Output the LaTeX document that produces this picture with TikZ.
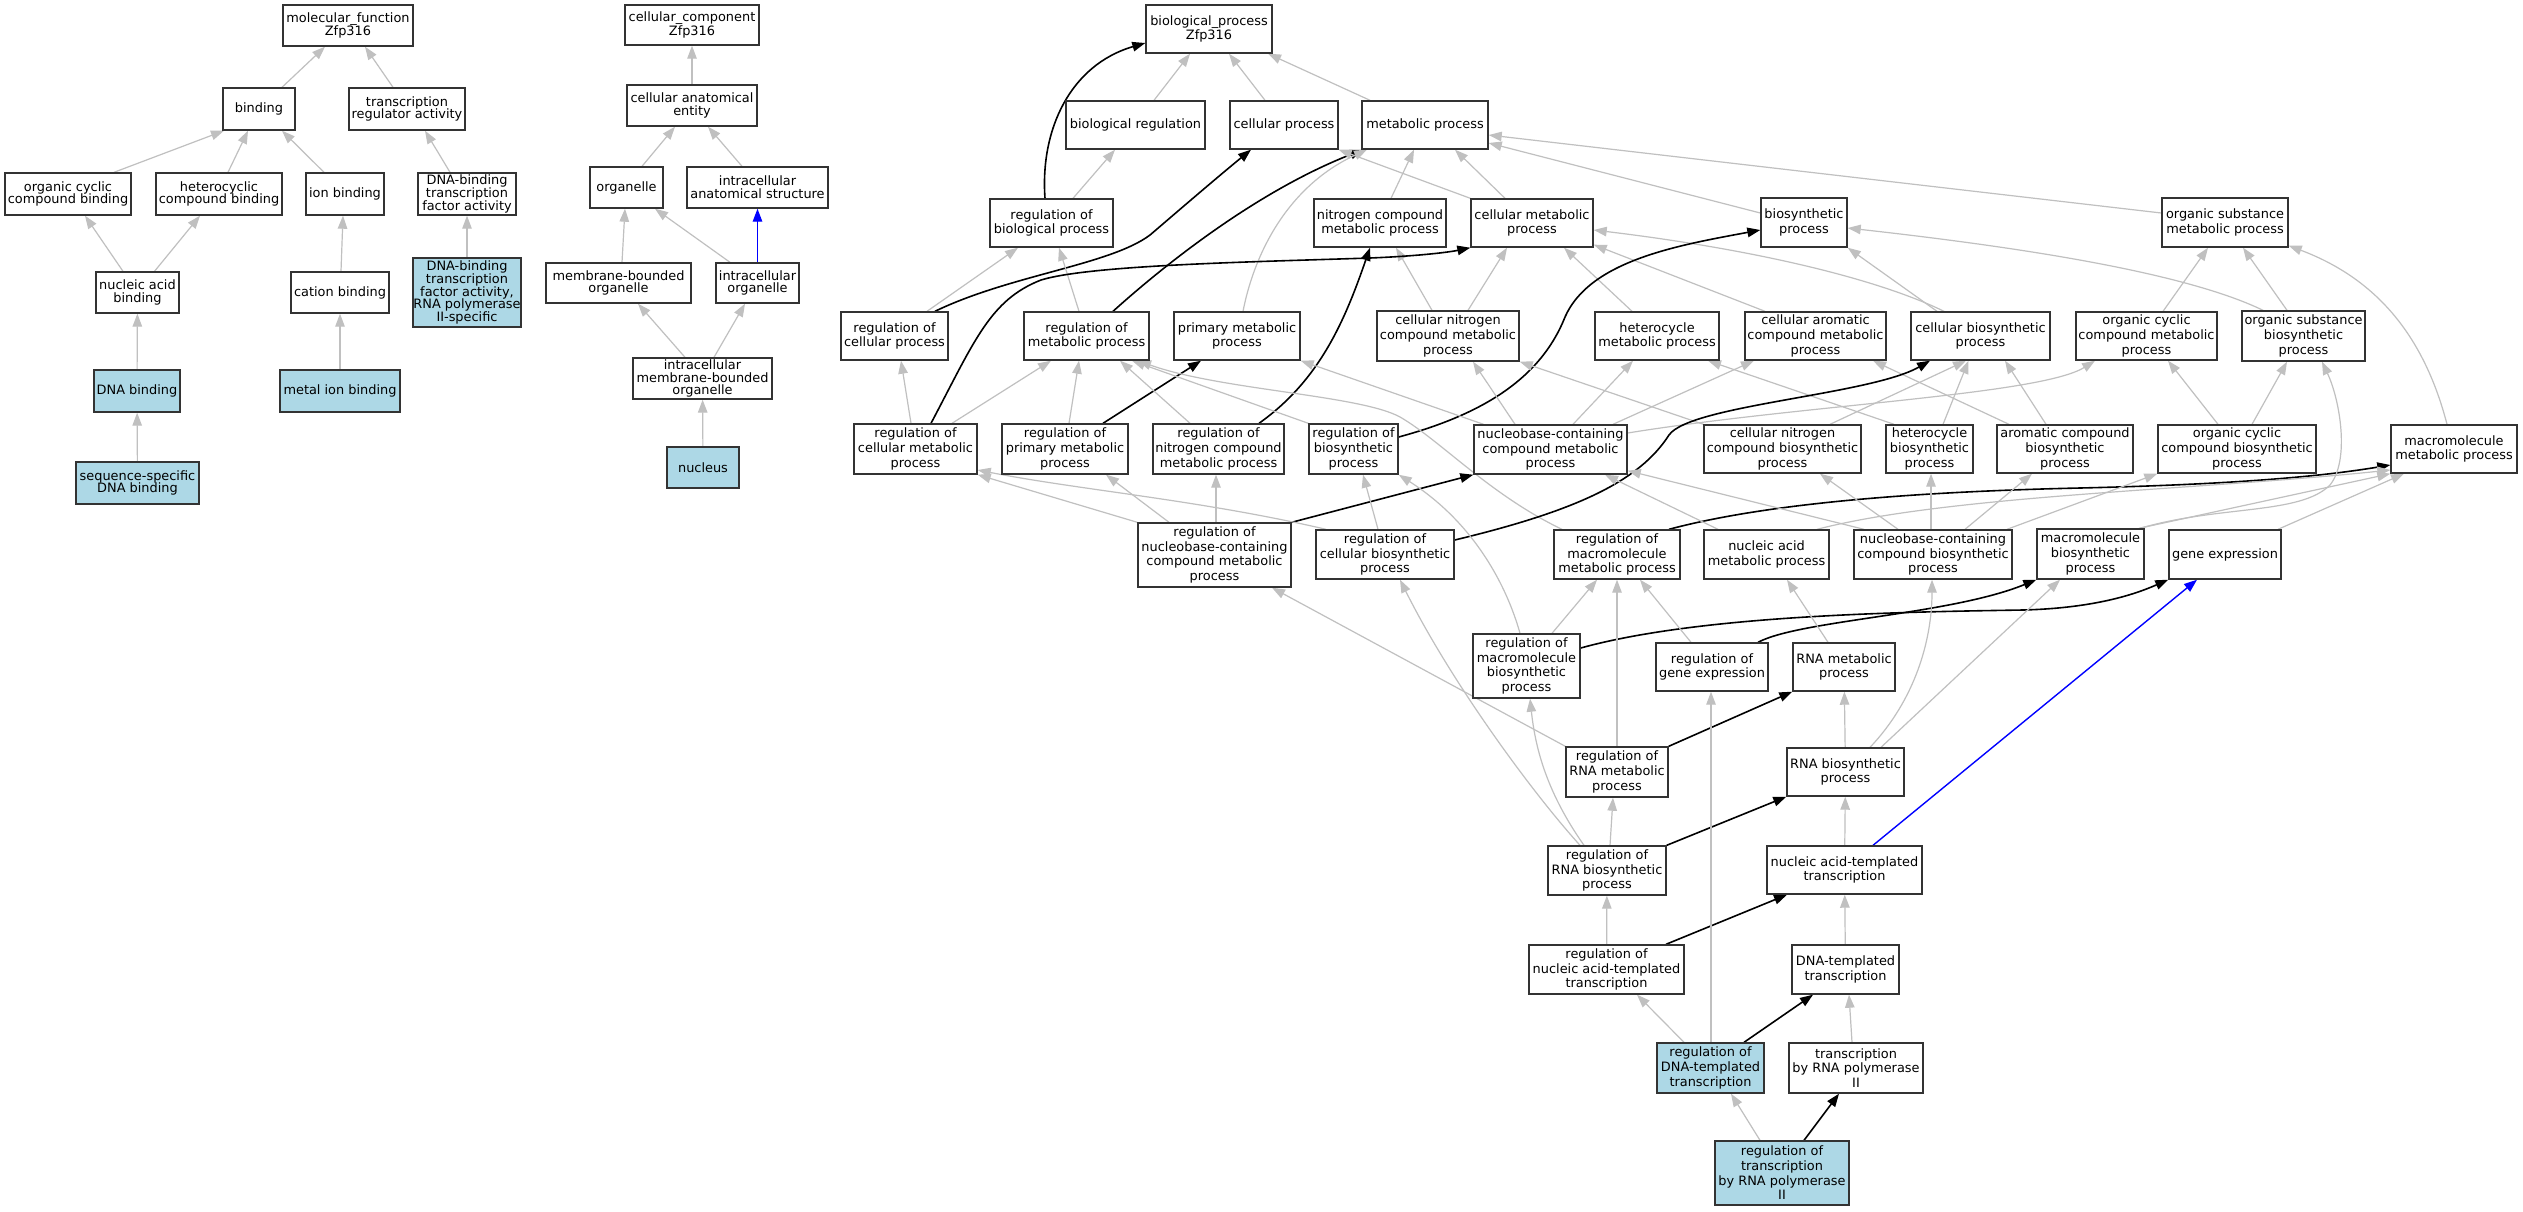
\documentclass[tikz,border=0pt]{standalone}
\usepackage{fontspec}
\setmainfont{DejaVu Sans}
\usetikzlibrary{arrows.meta}
\definecolor{edgegrey}{HTML}{C0C0C0}
\definecolor{boxblue}{HTML}{ADD8E6}
\definecolor{boxline}{HTML}{333333}
\pgfdeclarelayer{edgelayer}
\pgfsetlayers{edgelayer,main}
\newcommand\bpfont{\fontsize{12.9pt}{14.7pt}\selectfont}
\newcommand\mffont{\fontsize{12.9pt}{12.7pt}\selectfont}
\newcommand\gobox[7][]{%
  \pgfmathsetmacro\gbw{#5-#3}%
  \pgfmathsetmacro\gbh{#6-#4}%
  \pgfmathsetmacro\gbx{(#3+#5)/2}%
  \pgfmathsetmacro\gby{(#4+#6)/2}%
  \node[gbox,#1,minimum width=\gbw pt,minimum height=\gbh pt] (#2) at (\gbx,\gby) {#7};%
}
\begin{document}
\begin{tikzpicture}[x=1pt,y=-1pt,
  gbox/.style={draw=boxline,line width=1.4pt,fill=white,align=center,inner sep=0pt,font=\bpfont},
  mfbox/.style={font=\mffont},
  bluebox/.style={fill=boxblue},
  isaE/.style={color=edgegrey,line width=1.2pt,-{Triangle[length=13pt,width=9.5pt]}},
  regE/.style={color=black,line width=1.6pt,-{Triangle[length=13pt,width=9.5pt]}},
  partE/.style={color=blue,line width=1.4pt,-{Triangle[length=13pt,width=9.5pt]}}]
\useasboundingbox (0,0) rectangle (2523,1211);
% ---------- molecular function ----------
\gobox[mfbox]{mf}{283}{5}{413}{46}{molecular\_function\\Zfp316}
\gobox[mfbox]{binding}{223}{88}{295}{130}{binding}
\gobox[mfbox]{trreg}{349}{88}{465}{130}{transcription\\regulator activity}
\gobox[mfbox]{ocb}{5}{173}{131}{215}{organic cyclic\\compound binding}
\gobox[mfbox]{hcb}{156}{173}{282}{215}{heterocyclic\\compound binding}
\gobox[mfbox]{ionb}{306}{173}{384}{215}{ion binding}
\gobox[mfbox]{dbtf}{418}{173}{516}{215}{DNA-binding\\transcription\\factor activity}
\gobox[mfbox,bluebox]{dbtf2}{413}{258}{521}{327}{DNA-binding\\transcription\\factor activity,\\RNA polymerase\\II-specific}
\gobox[mfbox]{nab}{96}{272}{179}{313}{nucleic acid\\binding}
\gobox[mfbox]{catb}{291}{272}{389}{313}{cation binding}
\gobox[mfbox,bluebox]{dnab}{94}{370}{180}{412}{DNA binding}
\gobox[mfbox,bluebox]{mib}{280}{370}{400}{412}{metal ion binding}
\gobox[mfbox,bluebox]{ssdb}{76}{462}{199}{504}{sequence-specific\\DNA binding}
% ---------- cellular component ----------
\gobox[mfbox]{cc}{625}{5}{759}{45}{cellular\_component\\Zfp316}
\gobox[mfbox]{cae}{627}{85}{757}{126}{cellular anatomical\\entity}
\gobox[mfbox]{org}{590}{167}{663}{208}{organelle}
\gobox[mfbox]{ias}{687}{167}{828}{208}{intracellular\\anatomical structure}
\gobox[mfbox]{mbo}{546}{263}{691}{303}{membrane-bounded\\organelle}
\gobox[mfbox]{io}{716}{263}{799}{303}{intracellular\\organelle}
\gobox[mfbox]{imbo}{633}{358}{772}{399}{intracellular\\membrane-bounded\\organelle}
\gobox[mfbox,bluebox]{nuc}{667}{447}{739}{488}{nucleus}
% ---------- biological process ----------
\gobox{bp}{1146}{5}{1272}{53}{biological\_process\\Zfp316}
\gobox{breg}{1066}{101}{1205}{149}{biological regulation}
\gobox{cp}{1230}{101}{1338}{149}{cellular process}
\gobox{mp}{1362}{101}{1488}{149}{metabolic process}
\gobox{rbp}{990}{199}{1113}{247}{regulation of\\biological process}
\gobox{ncmp}{1314}{199}{1446}{247}{nitrogen compound\\metabolic process}
\gobox{cmp}{1471}{199}{1593}{247}{cellular metabolic\\process}
\gobox{bsp}{1761}{198}{1847}{247}{biosynthetic\\process}
\gobox{osmp}{2162}{198}{2288}{247}{organic substance\\metabolic process}
\gobox{rcp}{841}{312}{948}{360}{regulation of\\cellular process}
\gobox{rmp}{1024}{312}{1149}{360}{regulation of\\metabolic process}
\gobox{pmp}{1174}{312}{1300}{360}{primary metabolic\\process}
\gobox{cncmp}{1377}{311}{1519}{361}{cellular nitrogen\\compound metabolic\\process}
\gobox{hmp}{1595}{312}{1719}{360}{heterocycle\\metabolic process}
\gobox{camp}{1745}{312}{1886}{360}{cellular aromatic\\compound metabolic\\process}
\gobox{cbp}{1911}{312}{2050}{360}{cellular biosynthetic\\process}
\gobox{occmp}{2076}{312}{2217}{360}{organic cyclic\\compound metabolic\\process}
\gobox{osbp}{2242}{311}{2365}{361}{organic substance\\biosynthetic\\process}
\gobox{rcmp}{854}{424}{977}{474}{regulation of\\cellular metabolic\\process}
\gobox{rpmp}{1002}{424}{1128}{474}{regulation of\\primary metabolic\\process}
\gobox{rncmp}{1153}{424}{1284}{474}{regulation of\\nitrogen compound\\metabolic process}
\gobox{rbsp}{1309}{424}{1398}{474}{regulation of\\biosynthetic\\process}
\gobox{nbcmp}{1474}{425}{1627}{474}{nucleobase-containing\\compound metabolic\\process}
\gobox{cncbp}{1704}{425}{1861}{473}{cellular nitrogen\\compound biosynthetic\\process}
\gobox{hbp}{1886}{425}{1973}{473}{heterocycle\\biosynthetic\\process}
\gobox{acbp}{1997}{425}{2133}{473}{aromatic compound\\biosynthetic\\process}
\gobox{occbp}{2158}{425}{2316}{473}{organic cyclic\\compound biosynthetic\\process}
\gobox{mmp}{2391}{425}{2517}{473}{macromolecule\\metabolic process}
\gobox{rnbcmp}{1138}{523}{1291}{587}{regulation of\\nucleobase-containing\\compound metabolic\\process}
\gobox{rcbp}{1316}{530}{1454}{579}{regulation of\\cellular biosynthetic\\process}
\gobox{rmmp}{1554}{530}{1680}{579}{regulation of\\macromolecule\\metabolic process}
\gobox{namp}{1704}{530}{1829}{579}{nucleic acid\\metabolic process}
\gobox{nbcbp}{1854}{530}{2012}{579}{nucleobase-containing\\compound biosynthetic\\process}
\gobox{mbp}{2037}{529}{2144}{579}{macromolecule\\biosynthetic\\process}
\gobox{ge}{2169}{530}{2281}{579}{gene expression}
\gobox{rmbp}{1473}{634}{1580}{698}{regulation of\\macromolecule\\biosynthetic\\process}
\gobox{rge}{1656}{643}{1768}{691}{regulation of\\gene expression}
\gobox{rnamp}{1793}{643}{1895}{691}{RNA metabolic\\process}
\gobox{rrnamp}{1566}{747}{1668}{797}{regulation of\\RNA metabolic\\process}
\gobox{rnabp}{1787}{748}{1904}{796}{RNA biosynthetic\\process}
\gobox{rrnabp}{1548}{846}{1666}{895}{regulation of\\RNA biosynthetic\\process}
\gobox{natt}{1767}{846}{1922}{894}{nucleic acid-templated\\transcription}
\gobox{rnatt}{1529}{945}{1684}{994}{regulation of\\nucleic acid-templated\\transcription}
\gobox{dtt}{1792}{945}{1899}{994}{DNA-templated\\transcription}
\gobox[bluebox]{rdtt}{1657}{1043}{1764}{1093}{regulation of\\DNA-templated\\transcription}
\gobox{trp}{1789}{1043}{1923}{1093}{transcription\\by RNA polymerase\\II}
\gobox[bluebox]{rtrp}{1715}{1141}{1849}{1205}{regulation of\\transcription\\by RNA polymerase\\II}
\begin{pgfonlayer}{edgelayer}
\fill[white] (0,0) rectangle (2523,1211);
% MF edges
\draw[isaE] ([xshift=23pt]binding.north) -- ([xshift=-23pt]mf.south);
\draw[isaE] ([xshift=-14pt]trreg.north) -- ([xshift=17pt]mf.south);
\draw[isaE] ([xshift=46pt]ocb.north) -- ([xshift=-35pt]binding.south);
\draw[isaE] ([xshift=9pt]hcb.north) -- ([xshift=-11pt]binding.south);
\draw[isaE] ([xshift=-21pt]ionb.north) -- ([xshift=23pt]binding.south);
\draw[isaE] ([xshift=-17pt]dbtf.north) -- ([xshift=18pt]trreg.south);
\draw[isaE] ([xshift=-14.5pt]nab.north) -- ([xshift=17pt]ocb.south);
\draw[isaE] ([xshift=17pt]nab.north) -- ([xshift=-19pt]hcb.south);
\draw[isaE] ([xshift=1pt]catb.north) -- ([xshift=-2pt]ionb.south);
\draw[isaE] (dbtf2) -- (dbtf);
\draw[isaE] (dnab) -- (nab);
\draw[isaE] (mib) -- (catb);
\draw[isaE] (ssdb) -- (dnab);
% CC edges
\draw[isaE] (cae) -- (cc);
\draw[isaE] ([xshift=15.5pt]org.north) -- ([xshift=-17pt]cae.south);
\draw[isaE] ([xshift=-15.5pt]ias.north) -- ([xshift=16pt]cae.south);
\draw[isaE] ([xshift=3.5pt]mbo.north) -- ([xshift=-1.5pt]org.south);
\draw[isaE] ([xshift=-27.5pt]io.north) -- ([xshift=28.5pt]org.south);
\draw[partE] (io) -- (ias);
\draw[isaE] ([xshift=-17.5pt]imbo.north) -- ([xshift=19.5pt]mbo.south);
\draw[isaE] ([xshift=11.5pt]imbo.north) -- ([xshift=-12.5pt]io.south);
\draw[isaE] (nuc) -- (imbo);
% BP edges
\draw[isaE] ([xshift=18.5pt]breg.north) -- ([xshift=-19pt]bp.south);
\draw[isaE] ([xshift=-19pt]cp.north) -- ([xshift=20pt]bp.south);
\draw[isaE] ([xshift=-55pt]mp.north) -- ([xshift=59pt]bp.south);
\draw[regE] ([xshift=-6.5pt]rbp.north) .. controls (1040,130) and (1070,65) .. ([yshift=-14pt]bp.west);
\draw[isaE] ([xshift=21.5pt]rbp.north) -- ([xshift=-20.5pt]breg.south);
\draw[isaE] ([xshift=32.5pt]rcp.north) -- ([xshift=-33.5pt]rbp.south);
\draw[regE] ([xshift=40.5pt]rcp.north) .. controls (1010,275) and (1110,265) .. (1150,235) .. controls (1185,205) and (1220,175) .. ([xshift=-33pt]cp.south);
\draw[isaE] ([xshift=-7.5pt]rmp.north) -- ([xshift=7.5pt]rbp.south);
\draw[regE] ([xshift=26.5pt]rmp.north) .. controls (1170,260) and (1260,190) .. ([xshift=-62pt]mp.south);
\draw[isaE] ([xshift=6pt]pmp.north) .. controls (1255,250) and (1290,185) .. ([xshift=-58pt]mp.south);
\draw[isaE] ([xshift=11pt]ncmp.north) -- ([xshift=-11pt]mp.south);
\draw[isaE] ([xshift=-27pt]cmp.north) -- ([xshift=30pt]mp.south);
\draw[isaE] (cmp.north west) -- (cp.south east);
\draw[isaE] ([yshift=9.5pt]bsp.west) -- ([yshift=-18pt]mp.east);
\draw[isaE] ([yshift=9.5pt]osmp.west) -- ([yshift=-10pt]mp.east);
\draw[isaE] ([xshift=-16pt]cncmp.north) -- ([xshift=16pt]ncmp.south);
\draw[regE] ([xshift=40.5pt]rncmp.north) .. controls (1320,380) and (1345,320) .. ([xshift=-10pt]ncmp.south);
\draw[isaE] ([xshift=20pt]cncmp.north) -- ([xshift=-25pt]cmp.south);
\draw[isaE] ([xshift=-25pt]hmp.north) -- ([xshift=32pt]cmp.south);
\draw[isaE] ([xshift=-50.5pt]camp.north) -- ([yshift=3pt]cmp.south east);
\draw[isaE] ([xshift=-36.5pt]cbp.north) .. controls (1880,280) and (1760,250) .. ([yshift=-7pt]cmp.east);
\draw[regE] ([xshift=15.5pt]rcmp.north) .. controls (975,340) and (990,300) .. (1041,280) .. controls (1090,265) and (1250,262) .. (1370,258) .. controls (1420,256) and (1450,252) .. (cmp.south west);
\draw[isaE] ([xshift=-43.5pt]cbp.north) -- (bsp.south east);
\draw[isaE] ([xshift=-40.5pt]osbp.north) .. controls (2180,270) and (2000,245) .. ([yshift=-5.5pt]bsp.east);
\draw[regE] ([yshift=12pt]rbsp.east) .. controls (1480,415) and (1540,380) .. (1565,317) .. controls (1590,260) and (1680,245) .. ([yshift=-7.5pt]bsp.west);
\draw[isaE] ([xshift=16.5pt]occmp.north) -- ([xshift=-17pt]osmp.south);
\draw[isaE] ([xshift=-16.5pt]osbp.north) -- ([xshift=18pt]osmp.south);
\draw[isaE] ([xshift=-7pt]mmp.north) .. controls (2425,340) and (2380,280) .. ([yshift=2pt]osmp.south east);
\draw[isaE] ([xshift=-4.5pt]rcmp.north) -- ([xshift=6.5pt]rcp.south);
\draw[isaE] ([xshift=36.5pt]rcmp.north) -- ([xshift=-35.5pt]rmp.south);
\draw[isaE] ([xshift=4pt]rpmp.north) -- ([xshift=-7.5pt]rmp.south);
\draw[regE] ([xshift=38pt]rpmp.north) -- ([xshift=-36pt]pmp.south);
\draw[isaE] ([xshift=-28.5pt]rncmp.north) -- ([xshift=33.5pt]rmp.south);
\draw[isaE] (rbsp.north west) -- ([xshift=45.5pt]rmp.south);
\draw[isaE] ([xshift=-55pt]rmmp.north) .. controls (1490,495) and (1440,440) .. (1400,417) .. controls (1360,395) and (1220,390) .. ([xshift=51.5pt]rmp.south);
\draw[isaE] ([xshift=-67pt]nbcmp.north) -- (pmp.south east);
\draw[isaE] ([xshift=-35.5pt]nbcmp.north) -- ([xshift=25pt]cncmp.south);
\draw[isaE] ([xshift=22.5pt]nbcmp.north) -- ([xshift=-24pt]hmp.south);
\draw[isaE] ([xshift=62.5pt]nbcmp.north) -- ([xshift=-61.5pt]camp.south);
\draw[isaE] ([yshift=16.5pt]nbcmp.east) .. controls (1800,405) and (2040,395) .. ([xshift=-51.5pt]occmp.south);
\draw[isaE] (cncbp.north west) -- (cncmp.south east);
\draw[isaE] ([xshift=47.5pt]cncbp.north) -- ([xshift=-14.5pt]cbp.south);
\draw[isaE] ([xshift=-35.5pt]hbp.north) -- ([xshift=51pt]hmp.south);
\draw[isaE] ([xshift=13.5pt]hbp.north) -- ([xshift=-12pt]cbp.south);
\draw[isaE] ([xshift=-56pt]acbp.north) -- ([xshift=57.5pt]camp.south);
\draw[isaE] ([xshift=-19pt]acbp.north) -- ([xshift=24.5pt]cbp.south);
\draw[isaE] ([xshift=-19pt]occbp.north) -- ([xshift=21.5pt]occmp.south);
\draw[isaE] ([xshift=15pt]occbp.north) -- ([xshift=-16.5pt]osbp.south);
\draw[regE] ([yshift=14.5pt]rcbp.east) .. controls (1580,510) and (1640,480) .. (1669,435) .. controls (1690,405) and (1870,395) .. ([xshift=-50.5pt]cbp.south);
\draw[isaE] (rnbcmp.north west) -- (rcmp.south east);
\draw[isaE] ([xshift=-45.5pt]rnbcmp.north) -- ([xshift=41pt]rpmp.south);
\draw[isaE] ([xshift=1.5pt]rnbcmp.north) -- ([xshift=-2.5pt]rncmp.south);
\draw[regE] (rnbcmp.north east) -- (nbcmp.south west);
\draw[isaE] ([xshift=-59pt]rcbp.north) .. controls (1200,500) and (1080,490) .. ([yshift=-21pt]rcmp.east);
\draw[isaE] ([xshift=-7pt]rcbp.north) -- ([xshift=9.5pt]rbsp.south);
\draw[isaE] ([xshift=-6.5pt]rmbp.north) .. controls (1505,580) and (1470,520) .. (rbsp.south east);
\draw[isaE] ([xshift=25.5pt]rmbp.north) -- ([xshift=-20pt]rmmp.south);
\draw[regE] ([xshift=52pt]rmmp.north) .. controls (1760,505) and (1900,492) .. (2080,488) .. controls (2250,484) and (2330,475) .. ([yshift=-16pt]mmp.west);
\draw[isaE] ([xshift=-48.5pt]namp.north) -- ([xshift=54.5pt]nbcmp.south);
\draw[isaE] ([xshift=50.5pt]namp.north) .. controls (1950,495) and (2200,490) .. ([yshift=-21pt]mmp.west);
\draw[isaE] ([xshift=-69pt]nbcbp.north) -- ([yshift=4pt]nbcmp.south east);
\draw[isaE] ([xshift=-35pt]nbcbp.north) -- ([xshift=37.5pt]cncbp.south);
\draw[isaE] ([xshift=-2pt]nbcbp.north) -- ([xshift=1.5pt]hbp.south);
\draw[isaE] ([xshift=32pt]nbcbp.north) -- ([xshift=-33pt]acbp.south);
\draw[isaE] ([xshift=74pt]nbcbp.north) -- (occbp.south west);
\draw[isaE] ([xshift=48.5pt]mbp.north) -- (mmp.south west);
\draw[isaE] ([xshift=49.5pt]mbp.north) .. controls (2220,505) and (2300,515) .. (2330,485) .. controls (2350,460) and (2340,400) .. ([xshift=18.5pt]osbp.south);
\draw[isaE] ([xshift=53pt]ge.north) -- ([xshift=-50pt]mmp.south);
\draw[regE] ([yshift=18pt]rmbp.east) .. controls (1700,615) and (1900,612) .. (2023,610) .. controls (2100,608) and (2140,592) .. (ge.south west);
\draw[regE] ([xshift=46pt]rge.north) .. controls (1800,620) and (1950,615) .. (mbp.south west);
\draw[isaE] ([xshift=-21pt]rge.north) -- ([xshift=23pt]rmmp.south);
\draw[isaE] ([xshift=-16pt]rnamp.north) -- ([xshift=20.5pt]namp.south);
\draw[isaE] (rrnamp) -- (rmmp);
\draw[isaE] (rrnamp.north west) -- ([xshift=57.5pt]rnbcmp.south);
\draw[regE] (rrnamp.north east) -- (rnamp.south west);
\draw[isaE] (rnabp) -- (rnamp);
\draw[isaE] ([xshift=24.5pt]rnabp.north) .. controls (1915,700) and (1932,640) .. ([xshift=-1pt]nbcbp.south);
\draw[isaE] ([xshift=35.5pt]rnabp.north) -- ([xshift=-30.5pt]mbp.south);
\draw[isaE] ([xshift=3pt]rrnabp.north) -- ([xshift=-4pt]rrnamp.south);
\draw[isaE] ([xshift=-23pt]rrnabp.north) .. controls (1545,790) and (1535,745) .. ([xshift=3.5pt]rmbp.south);
\draw[isaE] ([xshift=-27pt]rrnabp.north) .. controls (1530,790) and (1450,680) .. ([xshift=15pt]rcbp.south);
\draw[regE] (rrnabp.north east) -- (rnabp.south west);
\draw[isaE] (natt) -- (rnabp);
\draw[partE] ([xshift=28.5pt]natt.north) -- ([xshift=-28pt]ge.south);
\draw[isaE] (rnatt) -- (rrnabp);
\draw[regE] ([xshift=59.5pt]rnatt.north) -- ([xshift=-57.5pt]natt.south);
\draw[isaE] (dtt) -- (natt);
\draw[isaE] ([xshift=-26.5pt]rdtt.north) -- ([xshift=30.5pt]rnatt.south);
\draw[regE] ([xshift=33.5pt]rdtt.north) -- ([xshift=-32.5pt]dtt.south);
\draw[isaE] ([xshift=0.5pt]rdtt.north) -- ([xshift=-1pt]rge.south);
\draw[isaE] ([xshift=-4pt]trp.north) -- ([xshift=3.5pt]dtt.south);
\draw[isaE] ([xshift=-22pt]rtrp.north) -- ([xshift=20.5pt]rdtt.south);
\draw[regE] ([xshift=22pt]rtrp.north) -- ([xshift=-17pt]trp.south);
\end{pgfonlayer}
\end{tikzpicture}
\end{document}
